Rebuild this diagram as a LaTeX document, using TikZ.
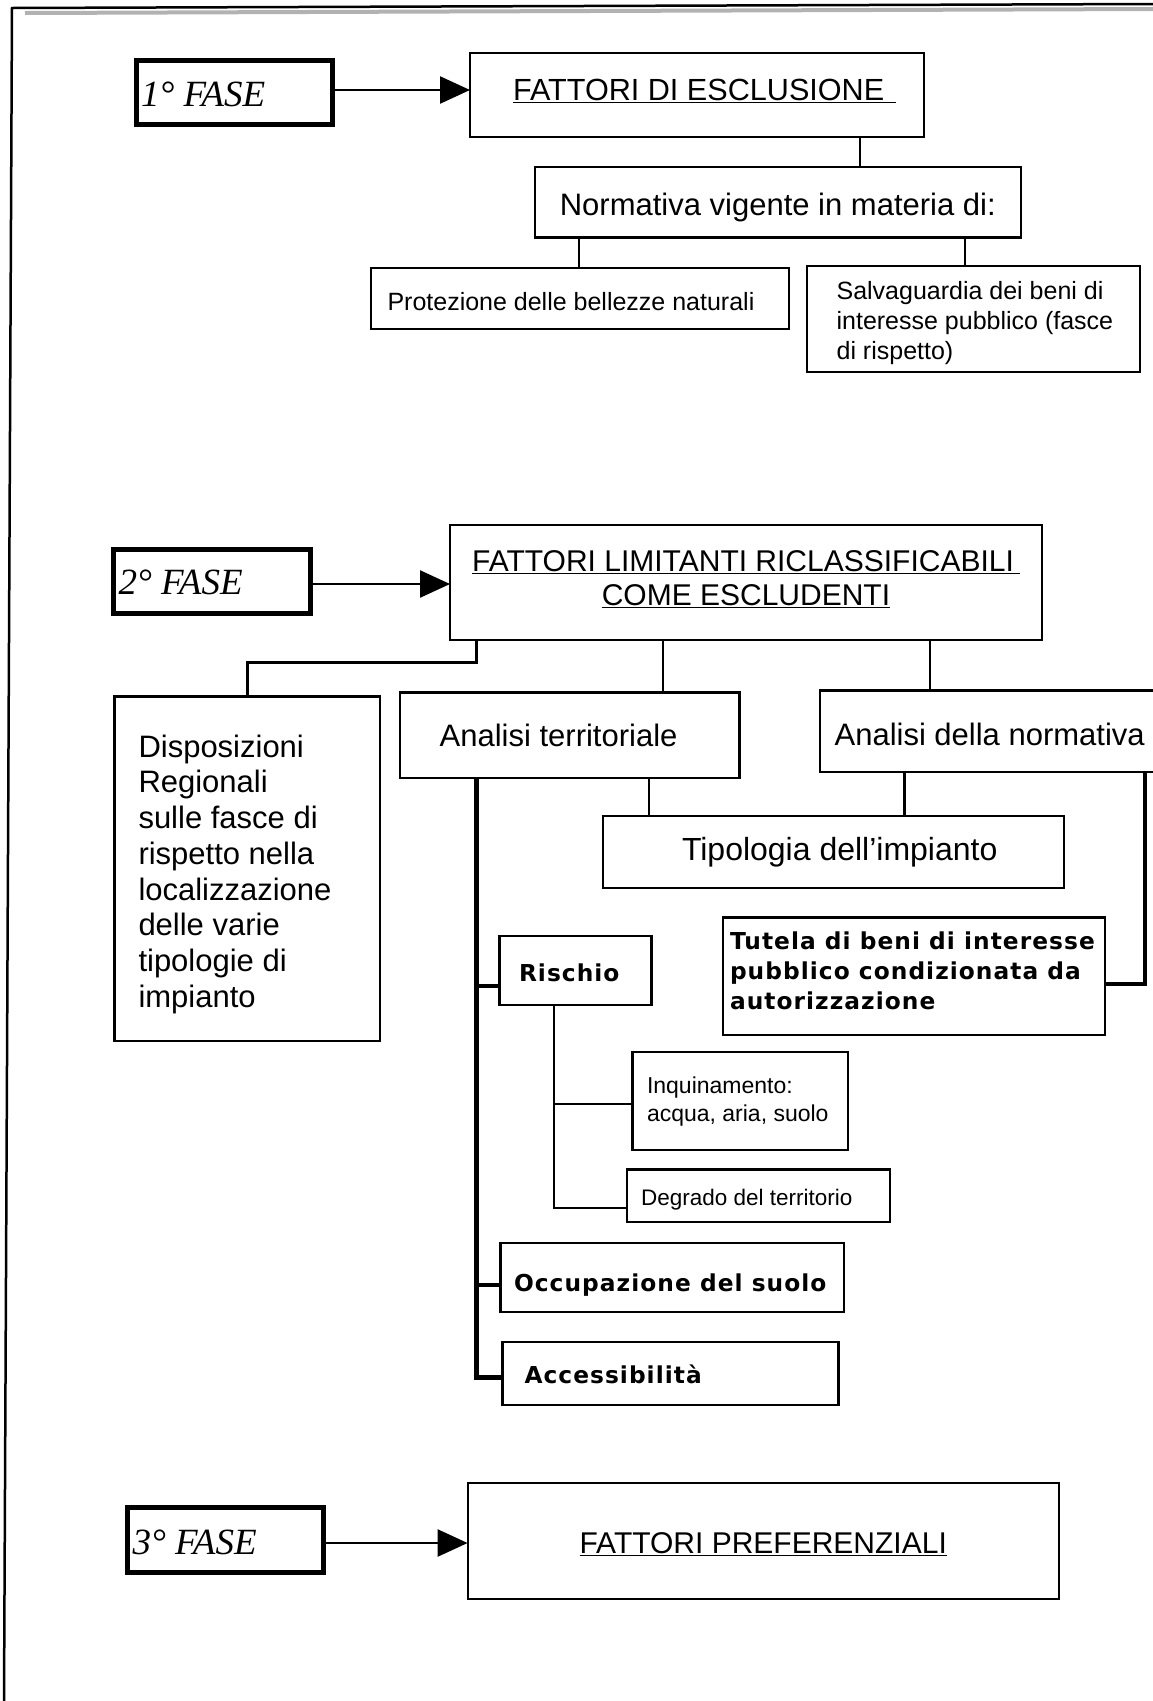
\documentclass[tikz,border=0pt]{standalone}
\usepackage{fontspec}
\setmainfont{Liberation Sans}
\newfontfamily\fasefont{Liberation Serif}
\newfontfamily\bsp[LetterSpace=4.5]{DejaVu Sans}
\usetikzlibrary{arrows.meta}
\newcommand\lbx[3]{\makebox[#1pt][l]{\hspace*{#2pt}\begin{tabular}[t]{@{}l@{}}#3\end{tabular}}}
\newcommand\cbx[1]{\begin{tabular}[t]{@{}c@{}}#1\end{tabular}}
\newcommand\fz[2]{\fontsize{#1pt}{#2pt}\selectfont}
\begin{document}
\begin{tikzpicture}[x=1pt,y=-1pt,
  bx/.style={draw, line width=2.2pt, inner sep=0pt, outer sep=0pt, anchor=north west},
  fasebox/.style={bx, line width=5pt, font={\fasefont\itshape\fz{37}{40}}},
  ln/.style={line width=2.2pt},
  midln/.style={line width=3pt},
  thk/.style={line width=4.5pt},
  arr/.style={line width=2.5pt, -{Triangle[length=30pt,width=27pt]}},
  big/.style={font=\fz{31}{36}},
  bld/.style={font={\bsp\bfseries\fz{23.3}{30}}},
  bl/.style={text height=#1pt, text depth=0pt},
  bd/.style={text height=0pt, text depth=#1pt},
  ]
\useasboundingbox (0,0) rectangle (1153,1701);
\clip (0,0) rectangle (1153,1701);
% frame
\draw[line width=4pt, black!30] (25,13) -- (1153,9);
\draw[line width=2.5pt] (4,1701) -- (12,8) -- (1153,4);

% phase 1
\node[fasebox, bl=28.9, minimum width=196pt, minimum height=64.5pt] (f1) at (136,60) {\lbx{196}{5}{1° FASE}};
\node[bx, bl=10, minimum width=454pt, minimum height=84pt, font=\fz{30.6}{36}] (e1) at (470,53) {\lbx{454}{43}{\underline{FATTORI DI ESCLUSIONE\hspace{12pt}}}};
\node[bx, big, bl=25.5, minimum width=485.6pt, minimum height=70.5pt] (n1) at (535,167) {\cbx{Normativa vigente in materia di:}};
\node[bx, bl=23, minimum width=418pt, minimum height=61pt, font=\fz{25}{30}] (p1) at (371,268) {\lbx{418}{16.5}{Protezione delle bellezze naturali}};
\node[bx, bd=39.4, minimum width=333pt, minimum height=106pt, font=\fz{25}{30.4}] (s1) at (806.6,265.7) {\lbx{333}{30}{Salvaguardia dei beni di\\interesse pubblico (fasce\\di rispetto)}};

\coordinate (g1) at ([yshift=2.25pt]f1.east);
\draw[arr] (g1) -- (g1 -| e1.west);
\coordinate (a1) at ([xshift=390pt]e1.south west);
\draw[ln] (a1) -- (a1 |- n1.north);
\coordinate (a2) at ([xshift=43.7pt]n1.south west);
\draw[ln] (a2) -- (a2 |- p1.north);
\coordinate (a3) at ([xshift=429.7pt]n1.south west);
\draw[ln] (a3) -- (a3 |- s1.north);

% phase 2
\node[fasebox, bl=27, minimum width=196.5pt, minimum height=64pt] (f2) at (113.5,549.2) {\lbx{196.5}{5}{2° FASE}};
\node[bx, bd=23.2, minimum width=592pt, minimum height=115pt, font=\fz{30}{34}] (l2) at (450,525.3) {\cbx{\underline{FATTORI LIMITANTI RICLASSIFICABILI\hspace{6pt}}\\\underline{COME ESCLUDENTI}}};
\node[bx, bd=223.4, minimum width=265.5pt, minimum height=344.8pt, font=\fz{31}{35.7}] (d2) at (114.5,696.5) {\lbx{265.5}{24}{Disposizioni\\Regionali\\sulle fasce di\\rispetto nella\\localizzazione\\delle varie\\tipologie di\\impianto}};
\node[bx, big, bl=22.9, minimum width=339.5pt, minimum height=85.5pt] (at) at (400,692.5) {\lbx{339.5}{39.7}{Analisi territoriale}};
\node[bx, big, bl=28.7, minimum width=360pt, minimum height=81.5pt] (an) at (820,690.5) {\lbx{360}{14.6}{Analisi della normativa}};
\node[bx, bl=17.2, minimum width=461pt, minimum height=72pt, font=\fz{32}{36}] (tp) at (603,815.8) {\lbx{461}{79}{Tipologia dell'impianto}};
\node[bx, bld, bd=54.3, minimum width=382.2pt, minimum height=117.3pt] (tu) at (722.8,917.5) {\lbx{382.2}{7.2}{Tutela di beni di interesse\\pubblico condizionata da\\autorizzazione}};
\node[bx, bld, bl=22.3, minimum width=152pt, minimum height=69.5pt] (ri) at (499.5,935.8) {\lbx{152}{19.5}{Rischio}};
\node[bx, bd=15, minimum width=215.4pt, minimum height=97.6pt, font=\fz{23}{28.4}] (iq) at (632.4,1052) {\lbx{215.4}{14.6}{Inquinamento:\\acqua, aria, suolo}};
\node[bx, bl=18.5, minimum width=263pt, minimum height=52.5pt, font=\fz{22.5}{28}] (dg) at (627,1169.5) {\lbx{263}{14}{Degrado del territorio}};
\node[bx, bld, bl=28.3, minimum width=343.5pt, minimum height=69.3pt] (oc) at (500.5,1242.7) {\lbx{343.5}{13.5}{Occupazione del suolo}};
\node[bx, bld, bl=20, minimum width=336pt, minimum height=63pt] (ac) at (502.5,1342) {\lbx{336}{22}{Accessibilità}};

\coordinate (g2) at ([yshift=-2.8pt]f2.east);
\draw[arr] (g2) -- (g2 -| l2.west);
\coordinate (b1) at ([xshift=26pt]l2.south west);
\draw[midln] (b1) |- ([yshift=34.5pt]d2.north) -- (d2.north);
\coordinate (b2) at ([xshift=213pt]l2.south west);
\draw[ln] (b2) -- (b2 |- at.north);
\coordinate (b3) at ([xshift=480pt]l2.south west);
\draw[ln] (b3) -- (b3 |- an.north);
\coordinate (c1) at ([xshift=249pt]at.south west);
\draw[ln] (c1) -- (c1 |- tp.north);
\coordinate (c2) at ([xshift=84.4pt]an.south west);
\draw[ln] (c2) -- (c2 |- tp.north);
\coordinate (c3) at ([xshift=325pt]an.south west);
\draw[thk] (c3) |- ([yshift=-7.85pt]tu.east);
\coordinate (c4) at ([xshift=76.5pt]at.south west);
\draw[thk] (c4) |- ([yshift=-4.2pt]ac.west);
\coordinate (r1) at ([yshift=-15.45pt]ri.west);
\draw[thk] (c4 |- r1) -- (r1);
\coordinate (o1) at ([yshift=-7.65pt]oc.west);
\draw[thk] (c4 |- o1) -- (o1);
\coordinate (d1) at ([xshift=54.2pt]ri.south west);
\draw[ln] (d1) |- ([yshift=-12.25pt]dg.west);
\coordinate (i1) at ([yshift=-3.2pt]iq.west);
\draw[ln] (d1 |- i1) -- (i1);

% phase 3
\node[fasebox, bl=28.6, minimum width=195.7pt, minimum height=65pt] (f3) at (127.5,1507.5) {\lbx{195.7}{5}{3° FASE}};
\node[bx, bl=24.7, minimum width=591.2pt, minimum height=116.5pt, font=\fz{30}{36}] (fp) at (467.6,1482.8) {\cbx{\underline{FATTORI PREFERENZIALI}}};
\coordinate (g3) at ([yshift=-3pt]f3.east);
\draw[arr] (g3) -- (g3 -| fp.west);
\end{tikzpicture}
\end{document}
